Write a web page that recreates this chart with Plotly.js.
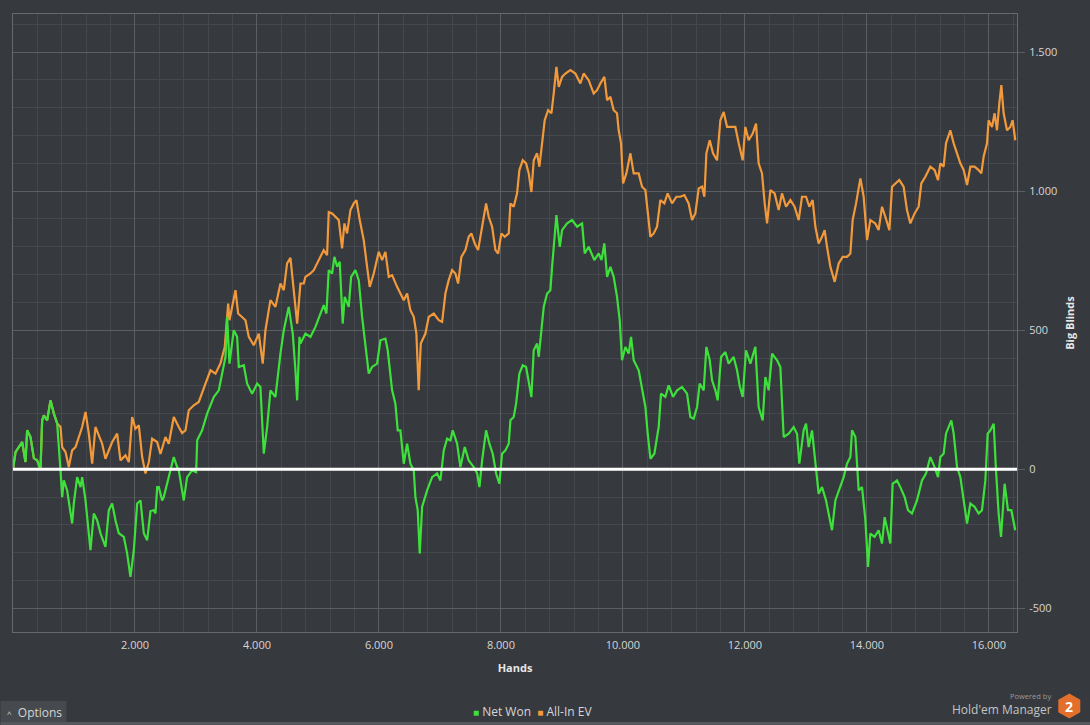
<!DOCTYPE html>
<html><head><meta charset="utf-8">
<script src="https://cdn.plot.ly/plotly-3.0.1.min.js"></script>
<style>html,body{margin:0;padding:0;background:#36393d;overflow:hidden}#chart{width:1090px;height:725px}</style>
</head><body><div id="chart"></div>
<script>
// ---- data ----
const seriesNames = ['Net Won', 'All-In EV'];

const netHands = [0,41,150,205,232,287,342,396,451,478,506,560,615,669,724,751,779,806,833,888,970,997,1052,1107,1134,1189,1243,1270,1325,1380,1434,1516,1571,1626,1680,1735,1817,1872,1926,1981,2036,2090,2145,2200,2254,2308,2336,2364,2391,2445,2472,2554,2610,2636,2692,2718,2800,2855,2937,3003,3020,3101,3183,3292,3374,3429,3484,3511,3549,3620,3675,3702,3784,3839,3921,4003,4057,4112,4167,4221,4303,4385,4440,4521,4587,4631,4659,4697,4713,4767,4795,4877,4959,5041,5095,5139,5177,5232,5270,5314,5357,5406,5439,5505,5544,5614,5669,5724,5778,5833,5888,5970,6024,6106,6144,6216,6270,6308,6352,6407,6462,6516,6571,6598,6636,6669,6708,6790,6872,6954,7008,7063,7118,7172,7210,7282,7336,7407,7472,7554,7610,7648,7692,7757,7811,7866,7921,7975,8019,8074,8128,8156,8210,8249,8303,8358,8413,8456,8500,8538,8593,8620,8664,8702,8757,8811,8839,8882,8910,8965,9003,9085,9167,9249,9331,9374,9439,9532,9603,9650,9696,9741,9795,9849,9904,9948,9986,10041,10095,10134,10177,10259,10314,10369,10407,10451,10516,10587,10625,10696,10751,10822,10888,10970,11052,11106,11161,11216,11259,11325,11369,11424,11462,11516,11554,11610,11680,11734,11816,11872,11915,11964,12019,12090,12172,12226,12292,12336,12390,12446,12528,12582,12636,12718,12800,12855,12893,12964,13003,13046,13101,13156,13210,13265,13331,13385,13429,13484,13566,13620,13675,13730,13757,13812,13866,13921,13976,14020,14057,14127,14193,14249,14292,14347,14385,14423,14495,14549,14620,14675,14740,14822,14904,14970,15041,15111,15167,15205,15259,15298,15385,15424,15479,15533,15588,15643,15697,15767,15833,15888,15943,15981,16025,16080,16118,16161,16200,16259,16314,16368,16434];
const netWon = [0,62,98,26,140,116,40,32,0,176,194,176,248,201,165,94,-4,-100,-40,-76,-195,-123,-28,-64,-28,-112,-230,-291,-159,-183,-230,-279,-147,-123,-183,-230,-243,-303,-387,-291,-123,-112,-230,-255,-150,-147,-159,-64,-64,-112,-100,-28,32,44,8,-4,-112,-28,-4,-10,104,140,200,260,284,344,404,548,380,500,476,368,374,308,272,308,296,56,152,284,260,416,500,584,488,356,248,476,452,476,488,476,512,560,590,560,716,704,764,728,746,524,620,584,692,716,680,548,440,344,368,380,464,470,428,284,236,140,140,20,92,20,-4,-100,-147,-303,-135,-76,-28,-15,-40,68,110,104,140,92,8,80,32,8,-15,-64,32,140,92,56,-15,-52,56,68,92,176,188,236,344,374,368,320,260,428,452,404,488,584,632,644,728,824,914,800,860,884,896,872,884,776,800,752,776,752,812,692,728,692,620,536,392,440,416,476,392,356,284,224,128,38,56,152,272,260,302,260,284,296,272,188,182,224,308,284,440,392,320,284,248,404,422,380,404,356,300,260,428,380,440,224,176,332,284,416,392,368,116,128,152,128,20,140,164,80,140,20,-88,-64,-112,-172,-219,-112,-64,-28,20,44,140,116,-76,-64,-183,-351,-231,-243,-219,-267,-172,-231,-267,-52,-40,-64,-100,-147,-159,-112,-40,-15,44,8,-28,44,56,128,176,128,8,-28,-112,-195,-123,-135,-159,-147,-40,128,140,164,-4,-159,-243,-52,-147,-147,-219];

const evHands = [0,41,150,205,232,287,342,396,451,478,506,560,615,669,724,779,806,861,915,970,1025,1079,1134,1189,1243,1298,1352,1407,1462,1516,1571,1626,1708,1762,1844,1899,1954,2008,2063,2118,2172,2227,2281,2363,2418,2500,2554,2636,2718,2773,2828,2882,2964,3046,3156,3238,3320,3401,3472,3528,3549,3593,3648,3692,3757,3812,3866,3948,4030,4095,4139,4221,4303,4385,4440,4494,4549,4603,4659,4713,4767,4795,4877,4931,5013,5095,5150,5177,5232,5287,5341,5396,5434,5478,5533,5587,5631,5685,5751,5806,5849,5915,5997,6052,6106,6161,6216,6298,6352,6407,6462,6516,6571,6614,6652,6686,6762,6817,6899,6981,7036,7090,7144,7200,7254,7298,7352,7418,7472,7516,7571,7626,7692,7757,7800,7856,7910,7954,8008,8062,8128,8156,8210,8265,8303,8358,8413,8456,8500,8538,8593,8631,8675,8718,8774,8828,8866,8910,8948,9003,9057,9139,9221,9303,9357,9439,9521,9576,9631,9696,9741,9795,9849,9904,9931,9970,10003,10057,10123,10177,10259,10314,10369,10407,10451,10505,10560,10614,10680,10734,10806,10877,10943,11008,11078,11134,11188,11243,11298,11336,11369,11424,11478,11544,11598,11653,11708,11790,11844,11899,11964,12008,12062,12128,12183,12226,12281,12325,12364,12418,12488,12554,12609,12675,12746,12816,12882,12937,13003,13057,13111,13156,13210,13265,13308,13347,13402,13473,13538,13604,13675,13730,13767,13823,13894,13948,14003,14057,14139,14193,14249,14303,14369,14413,14478,14532,14603,14658,14713,14783,14849,14893,14959,15041,15111,15167,15205,15259,15298,15369,15424,15479,15533,15588,15643,15697,15767,15833,15877,15915,15970,15997,16052,16095,16134,16172,16205,16243,16298,16352,16390,16434];
const allInEV = [0,62,98,26,140,116,40,32,0,176,194,176,248,201,165,152,80,62,8,68,80,112,152,206,128,20,152,122,92,38,68,98,128,32,50,26,188,146,158,44,-15,26,110,98,55,116,92,188,152,130,140,212,230,242,308,356,344,380,440,596,536,584,644,560,548,536,476,446,488,380,500,608,584,668,644,740,760,644,524,668,668,692,704,716,752,788,770,925,920,908,896,794,884,848,932,956,968,896,824,728,656,704,782,752,782,692,698,656,632,608,632,572,548,488,284,452,488,548,560,536,530,632,680,716,704,668,764,788,836,848,812,788,872,956,908,872,788,776,848,836,848,956,944,992,1076,1111,1100,1064,997,1111,1136,1088,1172,1255,1291,1280,1352,1447,1375,1411,1423,1435,1423,1387,1423,1399,1351,1363,1387,1411,1327,1339,1291,1280,1219,1172,1028,1064,1136,1064,1064,1016,1004,932,836,848,872,968,956,992,956,980,980,986,956,896,920,1010,1016,980,1136,1183,1136,1111,1255,1285,1231,1231,1231,1172,1111,1231,1183,1207,1243,1100,1064,956,884,1004,992,932,992,944,968,944,896,980,980,944,968,872,812,836,860,800,728,674,740,764,764,776,896,956,1046,980,824,896,884,860,944,908,860,1016,1028,1040,1016,932,884,920,944,1028,1052,1088,1076,1040,1100,1088,1172,1219,1172,1136,1100,1076,1022,1088,1088,1076,1064,1124,1172,1255,1231,1280,1219,1315,1381,1280,1219,1231,1255,1183];

const xTickVals = [2000,4000,6000,8000,10000,12000,14000,16000];
const xTickText = ['2.000','4.000','6.000','8.000','10.000','12.000','14.000','16.000'];
const yTickVals = [-500,0,500,1000,1500];
const yTickText = ['-500','0','500','1.000','1.500'];

// ---- styling / layout ----
const GREEN = '#3ee03c', ORANGE = '#f29a3b';
const BG = '#36393d';
const L = 12.5, R = 1016.7, T = 14, B = 632;
const pxX = x => (x - L) / (R - L);
const pxY = y => (B - y) / (B - T);
const FONT = 'Open Sans, Noto Sans, sans-serif';

const traces = [
  {x: evHands, y: allInEV, name: seriesNames[1], type: 'scatter', mode: 'lines',
   line: {color: ORANGE, width: 2.2}, showlegend: false, hoverinfo: 'skip'},
  {x: netHands, y: netWon, name: seriesNames[0], type: 'scatter', mode: 'lines',
   line: {color: GREEN, width: 2.2}, showlegend: false, hoverinfo: 'skip'}
];

const hex = (cx, cy, w, h) => {
  const X = v => pxX(v), Y = v => pxY(v);
  return `M ${X(cx)},${Y(cy-h)} L ${X(cx+w)},${Y(cy-h/2)} L ${X(cx+w)},${Y(cy+h/2)} L ${X(cx)},${Y(cy+h)} L ${X(cx-w)},${Y(cy+h/2)} L ${X(cx-w)},${Y(cy-h/2)} Z`;
};

const layout = {
  width: 1090, height: 725,
  paper_bgcolor: BG, plot_bgcolor: BG,
  margin: {l: 12.5, r: 73.3, t: 14, b: 93, pad: 0},
  font: {family: FONT, color: '#d6d6d6', size: 11},
  showlegend: false,
  xaxis: {
    range: [0, 16462], tickvals: xTickVals, ticktext: xTickText,
    showgrid: true, gridcolor: '#5b5e62', gridwidth: 1,
    minor: {dtick: 400, tick0: 0, showgrid: true, gridcolor: '#44474b', gridwidth: 1},
    showline: true, mirror: true, linecolor: '#66696d', linewidth: 1,
    zeroline: false, ticks: '', ticklabelstandoff: 3,
    tickfont: {family: FONT, size: 11, color: '#d6d6d6'},
    title: {text: '<b>Hands</b>', font: {family: FONT, size: 11, color: '#e6e6e6'}, standoff: 13},
    fixedrange: true
  },
  yaxis: {
    range: [-585, 1637], side: 'right', tickvals: yTickVals, ticktext: yTickText,
    showgrid: true, gridcolor: '#5b5e62', gridwidth: 1,
    minor: {dtick: 100, tick0: 0, showgrid: true, gridcolor: '#44474b', gridwidth: 1},
    showline: true, mirror: true, linecolor: '#66696d', linewidth: 1,
    zeroline: false, ticks: 'outside', ticklen: 7, tickcolor: '#5b5e62', tickwidth: 1,
    ticklabelstandoff: 2,
    tickfont: {family: FONT, size: 11, color: '#d6d6d6'},
    title: {text: '<b>Big Blinds</b>', font: {family: FONT, size: 11, color: '#e6e6e6'}, standoff: 10},
    fixedrange: true
  },
  shapes: [
    {type: 'line', xref: 'paper', yref: 'y', x0: 0, x1: 1, y0: 0, y1: 0,
     line: {color: '#ffffff', width: 3}, layer: 'above'},
    {type: 'rect', xref: 'paper', yref: 'paper', x0: pxX(0), x1: pxX(1090), y0: pxY(725), y1: pxY(722),
     fillcolor: '#54575b', line: {width: 0}, layer: 'below'},
    {type: 'rect', xref: 'paper', yref: 'paper', x0: pxX(0), x1: pxX(66), y0: pxY(722), y1: pxY(701),
     fillcolor: '#46494d', line: {width: 0}, layer: 'below'},
    {type: 'path', xref: 'paper', yref: 'paper', path: hex(1069, 706, 11, 12.5),
     fillcolor: '#e2702c', line: {width: 0}, layer: 'above'}
  ],
  annotations: [
    {xref: 'paper', yref: 'paper', x: pxX(532), y: pxY(711), xanchor: 'center', yanchor: 'middle',
     showarrow: false, font: {family: FONT, size: 12, color: '#d6d6d6'},
     text: `<span style="color:${GREEN};font-size:10px">■</span> ${seriesNames[0]}  <span style="color:${ORANGE};font-size:10px">■</span> ${seriesNames[1]}`},
    {xref: 'paper', yref: 'paper', x: pxX(4), y: pxY(712), xanchor: 'left', yanchor: 'middle',
     showarrow: false, font: {family: FONT, size: 12, color: '#d6d6d6'},
     text: '<span style="font-size:8px">^</span>  Options'},
    {xref: 'paper', yref: 'paper', x: pxX(1053), y: pxY(695.5), xanchor: 'right', yanchor: 'middle',
     showarrow: false, font: {family: FONT, size: 7.5, color: '#9a9a9a'}, text: 'Powered by'},
    {xref: 'paper', yref: 'paper', x: pxX(1054), y: pxY(709), xanchor: 'right', yanchor: 'middle',
     showarrow: false, font: {family: FONT, size: 12, color: '#c4c4c4'}, text: "Hold'em Manager"},
    {xref: 'paper', yref: 'paper', x: pxX(1069), y: pxY(706), xanchor: 'center', yanchor: 'middle',
     showarrow: false, font: {family: FONT, size: 14, color: '#ffffff'}, text: '<b>2</b>'}
  ]
};

Plotly.newPlot('chart', traces, layout, {displayModeBar: false, staticPlot: true});
</script>
</body></html>
